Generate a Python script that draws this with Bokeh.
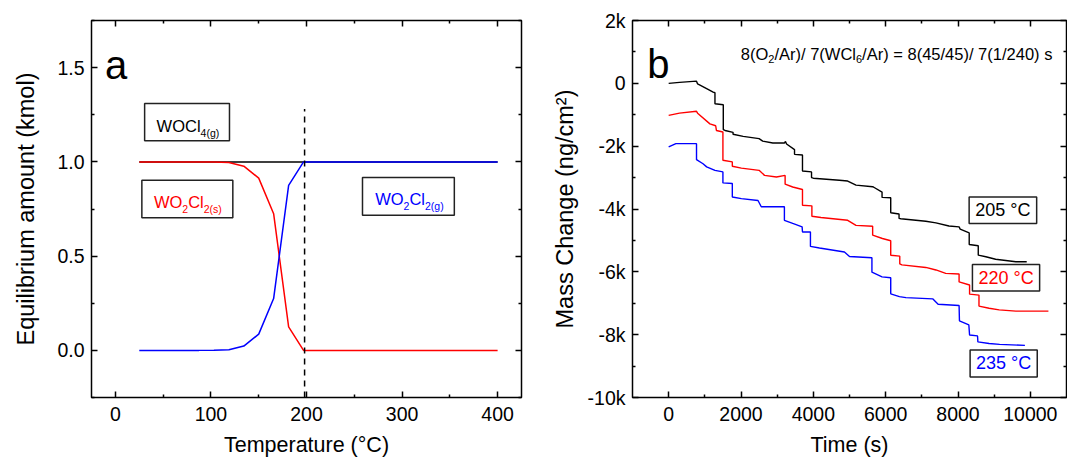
from bokeh.plotting import figure
from bokeh.layouts import row
from bokeh.models import FixedTicker, LinearAxis, Range1d, Label, BoxAnnotation, CustomJSTickFormatter
from bokeh.embed import file_html
from bokeh.resources import INLINE

FONT = "Liberation Sans"

# ---------------- panel a data ----------------
temperature_c = [25.0, 40.6, 56.3, 71.9, 87.5, 103.1, 118.8, 134.4, 150.0, 165.6, 181.3, 196.9,
                 212.5, 228.1, 243.8, 259.4, 275.0, 290.6, 306.3, 321.9, 337.5, 353.1, 368.8, 384.4, 400.0]
wocl4_g = [1.0, 1.0, 1.0, 1.0, 1.0, 1.0, 1.0, 1.0, 1.0, 1.0, 1.0, 1.0,
           1.0, 1.0, 1.0, 1.0, 1.0, 1.0, 1.0, 1.0, 1.0, 1.0, 1.0, 1.0, 1.0]
wo2cl2_s = [1.0, 1.0, 1.0, 1.0, 1.0, 0.999, 0.997, 0.977, 0.914, 0.725, 0.125, 0.0,
            0.0, 0.0, 0.0, 0.0, 0.0, 0.0, 0.0, 0.0, 0.0, 0.0, 0.0, 0.0, 0.0]
wo2cl2_g = [0.0, 0.0, 0.0, 0.0, 0.0, 0.001, 0.003, 0.023, 0.086, 0.275, 0.875, 1.0,
            1.0, 1.0, 1.0, 1.0, 1.0, 1.0, 1.0, 1.0, 1.0, 1.0, 1.0, 1.0, 1.0]
threshold_temp = 198.0
threshold_span = [-0.25, 1.28]

a_xticks = [0, 100, 200, 300, 400]
a_xminor = [50, 150, 250, 350]
a_xlabels = ["0", "100", "200", "300", "400"]
a_yticks = [0.0, 0.5, 1.0, 1.5]
a_yminor = [-0.25, 0.25, 0.75, 1.25, 1.75]
a_ylabels = ["0.0", "0.5", "1.0", "1.5"]

# ---------------- panel b data ----------------
t_205 = [0, 300, 770, 800, 1050, 1230, 1280, 1280, 1510, 1510, 1560, 1780, 1780, 2060, 2500, 2600,
         2880, 3200, 3230, 3260, 3480, 3480, 3700, 3700, 3950, 3950, 4000, 4720, 4950, 5180, 5640,
         5660, 5900, 5900, 6140, 6140, 6370, 6370, 6420, 7110, 7390, 7750, 8030, 8060, 8310, 8310,
         8560, 8560, 8770, 9040, 9600, 9900]
m_205 = [0, 30, 70, -20, -170, -280, -300, -650, -680, -1470, -1500, -1560, -1620, -1690, -1760, -1840,
         -1900, -1900, -1850, -1930, -2110, -2260, -2280, -2790, -2820, -3000, -3020, -3085, -3110, -3240, -3290,
         -3300, -3460, -3630, -3640, -4120, -4160, -4300, -4310, -4390, -4440, -4540, -4570, -4640, -4760, -5130,
         -5170, -5470, -5520, -5600, -5680, -5680]

t_220 = [0, 300, 770, 800, 1140, 1300, 1320, 1500, 1500, 1760, 1760, 2010, 2500, 2650, 2980, 3220,
         3220, 3430, 3700, 3700, 3960, 3960, 4210, 4950, 5180, 5640, 5640, 5910, 6140, 6140, 6390,
         6390, 6450, 7110, 7390, 7660, 8030, 8030, 8320, 8320, 8580, 8580, 8860, 9140, 9600, 10500]
m_220 = [-1020, -950, -890, -950, -1290, -1350, -1500, -1550, -2450, -2500, -2640, -2700, -2770, -2930, -2980, -2930,
         -3210, -3300, -3380, -3880, -3900, -4230, -4270, -4360, -4520, -4550, -4830, -4940, -5010, -5470, -5500,
         -5750, -5780, -5860, -5940, -6050, -6070, -6320, -6420, -6710, -6740, -7090, -7160, -7210, -7250, -7250]

t_235 = [0, 200, 770, 770, 950, 1050, 1280, 1500, 1500, 1760, 1760, 2010, 2470, 2560, 3200, 3200,
         3430, 3690, 3700, 3920, 3920, 4170, 4860, 5000, 5620, 5620, 5900, 6140, 6140, 6380, 6560,
         7300, 7450, 8030, 8040, 8300, 8320, 8540, 8550, 8860, 9150, 9850]
m_235 = [-2020, -1920, -1920, -2430, -2560, -2660, -2770, -2820, -3170, -3190, -3620, -3670, -3730, -3930, -3930, -4360,
         -4460, -4570, -4730, -4730, -5190, -5240, -5370, -5510, -5550, -6010, -6160, -6190, -6700, -6790, -6820,
         -6860, -7030, -7070, -7560, -7690, -8010, -8040, -8230, -8280, -8310, -8340]

b_xticks = [0, 2000, 4000, 6000, 8000, 10000]
b_xminor = [1000, 3000, 5000, 7000, 9000]
b_xlabels = ["0", "2000", "4000", "6000", "8000", "10000"]
b_yticks = [-10000, -8000, -6000, -4000, -2000, 0, 2000]
b_yminor = [-9000, -7000, -5000, -3000, -1000, 1000]
b_ylabels = ["-10k", "-8k", "-6k", "-4k", "-2k", "0", "2k"]

# Arial / Liberation Sans advance widths (per 1000 em)
AW = {" ": 278, "(": 333, ")": 333, "/": 278, "=": 584, "A": 667, "C": 722, "O": 778, "W": 944,
      "l": 222, "r": 333, "s": 500, "g": 556, "k": 500}
for d in "0123456789":
    AW[d] = 556


def tw(s, size):
    return sum(AW.get(c, 556) for c in s) / 1000.0 * size


def style_axis(ax, tick_size="19.5px"):
    ax.axis_line_color = None
    ax.major_tick_in = 6
    ax.major_tick_out = 0
    ax.minor_tick_in = 3
    ax.minor_tick_out = 0
    ax.major_tick_line_width = 1.5
    ax.minor_tick_line_width = 1.5
    ax.major_tick_line_color = "black"
    ax.minor_tick_line_color = "black"
    ax.major_label_text_font = FONT
    ax.major_label_text_font_size = tick_size
    ax.major_label_text_color = "black"
    ax.axis_label_text_font = FONT
    ax.axis_label_text_font_style = "normal"
    ax.axis_label_text_color = "black"


def mirror(p, loc, ticker):
    ax = LinearAxis(ticker=ticker, formatter=CustomJSTickFormatter(code="return ''"))
    style_axis(ax, "1px")
    ax.major_label_standoff = 0
    p.add_layout(ax, loc)


def composite(p, x, parts, color, main_size, sub_size):
    off = 0.0
    for text, y, is_sub in parts:
        size = sub_size if is_sub else main_size
        p.add_layout(Label(x=x, y=y, x_offset=off, text=text, text_font=FONT,
                           text_font_size=f"{size}px", text_color=color,
                           text_align="left", text_baseline="alphabetic"))
        off += tw(text, size)


BOX_COLOR = "#222222"


def box(p, l, r, t, b):
    p.add_layout(BoxAnnotation(left=l, right=r, top=t, bottom=b, fill_color=None, fill_alpha=0,
                               line_color=BOX_COLOR, line_alpha=1.0, line_width=1.5))


# ================= panel a =================
pa = figure(width=532, height=463, x_range=Range1d(-25, 425), y_range=Range1d(-0.25, 1.75),
            output_backend="svg", toolbar_location=None,
            min_border_left=91, min_border_right=11, min_border_top=17, min_border_bottom=66)
pa.grid.visible = False
pa.outline_line_color = "black"
pa.outline_line_width = 1.5
pa.background_fill_color = "white"
pa.border_fill_color = "white"

xt_a = FixedTicker(ticks=a_xticks, minor_ticks=a_xminor)
yt_a = FixedTicker(ticks=a_yticks, minor_ticks=a_yminor)
pa.xaxis[0].ticker = xt_a
pa.yaxis[0].ticker = yt_a
pa.xaxis[0].major_label_overrides = dict(zip(a_xticks, a_xlabels))
pa.yaxis[0].major_label_overrides = dict(zip(a_yticks, a_ylabels))
style_axis(pa.xaxis[0])
style_axis(pa.yaxis[0])
pa.xaxis[0].axis_label = "Temperature (°C)"
pa.yaxis[0].axis_label = "Equilibrium amount (kmol)"
pa.xaxis[0].axis_label_text_font_size = "21.5px"
pa.yaxis[0].axis_label_text_font_size = "23.5px"
pa.xaxis[0].major_label_standoff = 9
pa.yaxis[0].major_label_standoff = 7
pa.xaxis[0].axis_label_standoff = 9
pa.yaxis[0].axis_label_standoff = 15
mirror(pa, "above", xt_a)
mirror(pa, "right", yt_a)

pa.line(temperature_c, wocl4_g, line_color="black", line_width=1.5)
pa.line(temperature_c, wo2cl2_s, line_color="#ff0000", line_width=1.5)
pa.line(temperature_c, wo2cl2_g, line_color="#0000ff", line_width=1.5)
pa.line([threshold_temp, threshold_temp], threshold_span, line_color="black", line_width=1.5,
        line_dash="6 5")

box(pa, 30.6, 119.4, 1.31, 1.112)
box(pa, 27.7, 122.9, 0.902, 0.704)
box(pa, 258.6, 354.7, 0.917, 0.717)

composite(pa, 43.1, [("WOCl", 1.191, False), ("4(g)", 1.153, True)], "black", 16.5, 10.5)
composite(pa, 40.3, [("WO", 0.789, False), ("2", 0.752, True), ("Cl", 0.789, False), ("2(s)", 0.752, True)],
          "#ff0000", 16.5, 10.5)
composite(pa, 271.9, [("WO", 0.802, False), ("2", 0.765, True), ("Cl", 0.802, False), ("2(g)", 0.765, True)],
          "#0000ff", 16.5, 10.5)
pa.add_layout(Label(x=-11, y=1.516, text="a", text_font=FONT, text_font_size="40px",
                    text_color="black", text_baseline="alphabetic"))

# ================= panel b =================
pb = figure(width=535, height=463, x_range=Range1d(-1000, 11000), y_range=Range1d(-10000, 2000),
            output_backend="svg", toolbar_location=None,
            min_border_left=100, min_border_right=1, min_border_top=20, min_border_bottom=66)
pb.grid.visible = False
pb.outline_line_color = "black"
pb.outline_line_width = 1.5
pb.background_fill_color = "white"
pb.border_fill_color = "white"

xt_b = FixedTicker(ticks=b_xticks, minor_ticks=b_xminor)
yt_b = FixedTicker(ticks=b_yticks, minor_ticks=b_yminor)
pb.xaxis[0].ticker = xt_b
pb.yaxis[0].ticker = yt_b
pb.xaxis[0].major_label_overrides = dict(zip(b_xticks, b_xlabels))
pb.yaxis[0].major_label_overrides = dict(zip(b_yticks, b_ylabels))
style_axis(pb.xaxis[0])
style_axis(pb.yaxis[0])
pb.xaxis[0].axis_label = "Time (s)"
pb.yaxis[0].axis_label = "Mass Change (ng/cm²)"
pb.xaxis[0].axis_label_text_font_size = "21.5px"
pb.yaxis[0].axis_label_text_font_size = "23.5px"
pb.xaxis[0].major_label_standoff = 9
pb.yaxis[0].major_label_standoff = 7
pb.xaxis[0].axis_label_standoff = 9
pb.yaxis[0].axis_label_standoff = 7
mirror(pb, "above", xt_b)
mirror(pb, "right", yt_b)

pb.line(t_205, m_205, line_color="black", line_width=1.4)
pb.line(t_220, m_220, line_color="#ff0000", line_width=1.4)
pb.line(t_235, m_235, line_color="#0000ff", line_width=1.4)

for (l, r, t, b), txt, col in [((8308, 10175, -3616, -4461), "205 °C", "black"),
                              ((8399, 10257, -5763, -6612), "220 °C", "#ff0000"),
                              ((8335, 10191, -8486, -9344), "235 °C", "#0000ff")]:
    box(pb, l, r, t, b)
    pb.add_layout(Label(x=(l + r) / 2, y=(t + b) / 2, text=txt, text_font=FONT, text_font_size="18px",
                        text_color=col, text_align="center", text_baseline="middle"))

composite(pb, 1994, [("8(O", 940, False), ("2", 781, True), ("/Ar)/ 7(WCl", 940, False), ("6", 781, True),
                     ("/Ar) = 8(45/45)/ 7(1/240) s", 940, False)], "black", 16.5, 11)
pb.add_layout(Label(x=-590, y=623, text="b", text_font=FONT, text_font_size="40px",
                    text_color="black", text_baseline="alphabetic"))

layout = row(pa, pb)
open("out.html", "w").write(file_html(layout, INLINE))
